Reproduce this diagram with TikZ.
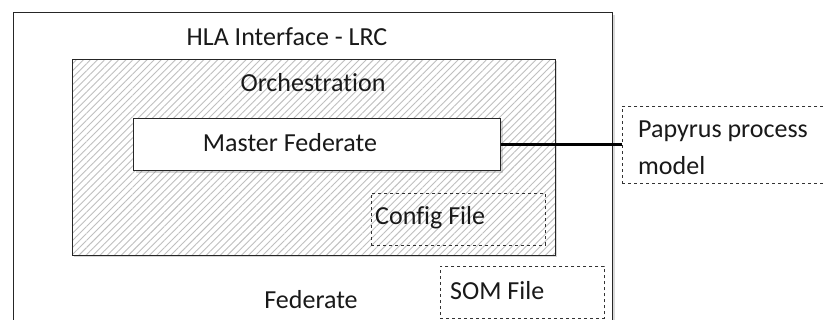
\documentclass[tikz,border=0pt]{standalone}
\usepackage{fontspec}
\setmainfont{Carlito}[Ligatures=CommonOff]
\usetikzlibrary{patterns.meta,shadows}

\tikzset{
  box/.style={draw=black!85, line width=1.3pt, anchor=north west, inner sep=0pt,
    drop shadow={shadow xshift=2pt, shadow yshift=-2pt, opacity=0.25, fill=black!60}},
  filebox/.style={draw=black!80, dashed, line width=0.9pt, anchor=north west, inner sep=0pt},
  lbl/.style={font=\fontsize{26}{37}\selectfont, text=black!90, inner sep=0pt},
}

\begin{document}
\begin{tikzpicture}[x=1pt, y=-1pt]

    % frame
    \useasboundingbox (0,0) rectangle (823,320);
    \clip (0,0) rectangle (823,320);

    % HLA interface (outer box)
    \node[box, fill=white, minimum width=599pt, minimum height=330pt] (lrc) at (13,12) {};
    \node[lbl] (lrctext) at (287,37) {HLA Interface - LRC};
    \node[lbl] (federate) at (311,300) {Federate};

    % Orchestration
    \node[box, preaction={fill=white},
          pattern={Lines[angle=45, distance=5pt, line width=0.9pt]}, pattern color=gray!50,
          minimum width=483pt, minimum height=196pt] (orch) at (72,59) {};
    \node[lbl] (orchtext) at (313,83) {Orchestration};

    % Master federate
    \node[box, fill=white, minimum width=367pt, minimum height=52pt] (master) at (133,118) {};
    \node[lbl] (mastertext) at (290,143) {Master Federate};

    % files
    \node[filebox, minimum width=174pt, minimum height=52pt] (config) at (371,193) {};
    \node[lbl, anchor=west] (configtext) at (375,218) {Config File};

    \node[filebox, fill=white, minimum width=164pt, minimum height=52pt] (som) at (440,266) {};
    \node[lbl, anchor=west] (somtext) at (450,291) {SOM File};

    % Papyrus model
    \node[filebox, fill=white, minimum width=230pt, minimum height=77pt] (papyrus) at (622,106) {};
    \node[lbl, anchor=west, align=left] (papyrustext) at (638,148) {Papyrus process\\model};

    \draw[line width=2.4pt] (master.east) -- (master.east -| papyrus.west);

\end{tikzpicture}
\end{document}
